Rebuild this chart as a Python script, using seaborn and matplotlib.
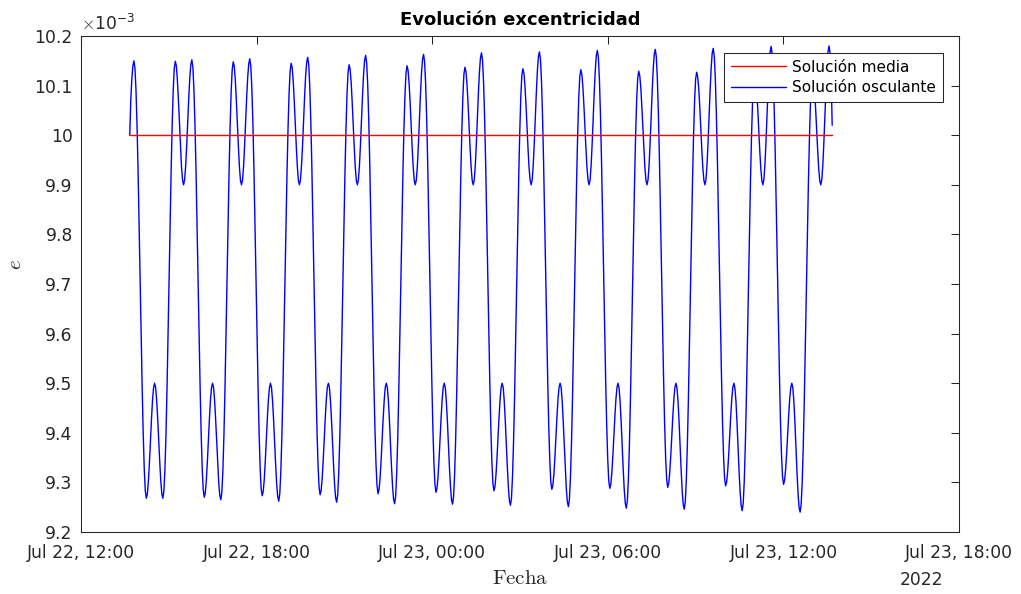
import numpy as np
import pandas as pd
import matplotlib
matplotlib.use("Agg")
import matplotlib.pyplot as plt
import matplotlib.dates as mdates
from matplotlib.ticker import FuncFormatter, FixedLocator
import seaborn as sns

# Propagation window (24 h of samples, equally spaced in time)
t_inicio = "2022-07-22 13:40"
t_fin = "2022-07-23 13:40"

# Mean eccentricity (x 1e-3)
e_media = [10.0, 10.0]

# Osculating eccentricity (x 1e-3); each block of lines is one orbit
e_osculante = [
    10.000, 10.073, 10.114, 10.140, 10.150,
    10.135, 10.091, 10.021, 9.930, 9.823, 9.709, 9.595, 9.489, 9.397, 9.327, 9.283, 9.268,
    9.277, 9.302, 9.340, 9.384, 9.428, 9.466, 9.491, 9.500, 9.491, 9.466, 9.428, 9.384, 9.340, 9.302, 9.277, 9.268,
    9.283, 9.327, 9.397, 9.489, 9.595, 9.709, 9.823, 9.930, 10.021, 10.091, 10.135, 10.149,
    10.140, 10.112, 10.072, 10.025, 9.977, 9.936, 9.910,

    9.900, 9.910, 9.937, 9.978, 10.026, 10.074, 10.115, 10.142, 10.152,
    10.137, 10.093, 10.023, 9.932, 9.825, 9.711, 9.597, 9.491, 9.399, 9.329, 9.285, 9.270,
    9.279, 9.304, 9.341, 9.385, 9.429, 9.466, 9.491, 9.500, 9.491, 9.466, 9.427, 9.383, 9.338, 9.299, 9.274, 9.265,
    9.280, 9.324, 9.394, 9.486, 9.592, 9.706, 9.820, 9.927, 10.018, 10.088, 10.132, 10.148,
    10.139, 10.112, 10.071, 10.024, 9.977, 9.936, 9.909,

    9.900, 9.910, 9.937, 9.979, 10.027, 10.076, 10.117, 10.144, 10.154,
    10.139, 10.095, 10.025, 9.934, 9.827, 9.713, 9.599, 9.493, 9.401, 9.331, 9.287, 9.273,
    9.282, 9.306, 9.343, 9.387, 9.430, 9.467, 9.491, 9.500, 9.491, 9.465, 9.427, 9.381, 9.336, 9.297, 9.271, 9.262,
    9.277, 9.321, 9.391, 9.483, 9.589, 9.703, 9.817, 9.924, 10.015, 10.085, 10.129, 10.145,
    10.136, 10.109, 10.069, 10.023, 9.976, 9.936, 9.909,

    9.900, 9.910, 9.938, 9.979, 10.029, 10.078, 10.120, 10.147, 10.157,
    10.142, 10.098, 10.028, 9.937, 9.830, 9.716, 9.602, 9.496, 9.404, 9.334, 9.290, 9.275,
    9.284, 9.308, 9.345, 9.388, 9.431, 9.467, 9.492, 9.500, 9.491, 9.465, 9.426, 9.380, 9.334, 9.295, 9.269, 9.260,
    9.275, 9.319, 9.389, 9.481, 9.587, 9.701, 9.815, 9.922, 10.013, 10.083, 10.127, 10.142,
    10.133, 10.107, 10.067, 10.021, 9.975, 9.935, 9.909,

    9.900, 9.910, 9.938, 9.981, 10.031, 10.080, 10.123, 10.151, 10.161,
    10.146, 10.102, 10.032, 9.941, 9.834, 9.720, 9.606, 9.500, 9.408, 9.338, 9.294, 9.277,
    9.286, 9.310, 9.346, 9.389, 9.431, 9.467, 9.492, 9.500, 9.491, 9.465, 9.425, 9.379, 9.332, 9.293, 9.266, 9.257,
    9.272, 9.316, 9.386, 9.478, 9.584, 9.698, 9.812, 9.919, 10.010, 10.080, 10.124, 10.140,
    10.131, 10.105, 10.066, 10.020, 9.974, 9.935, 9.909,

    9.900, 9.910, 9.938, 9.981, 10.032, 10.082, 10.125, 10.153, 10.163,
    10.148, 10.104, 10.034, 9.943, 9.836, 9.722, 9.608, 9.502, 9.410, 9.340, 9.296, 9.280,
    9.288, 9.312, 9.348, 9.390, 9.432, 9.468, 9.492, 9.500, 9.491, 9.464, 9.425, 9.378, 9.331, 9.292, 9.265, 9.256,
    9.271, 9.315, 9.385, 9.477, 9.583, 9.697, 9.811, 9.918, 10.009, 10.079, 10.123, 10.137,
    10.128, 10.102, 10.064, 10.019, 9.973, 9.935, 9.909,

    9.900, 9.910, 9.939, 9.982, 10.033, 10.084, 10.127, 10.156, 10.166,
    10.151, 10.107, 10.037, 9.946, 9.839, 9.725, 9.611, 9.505, 9.413, 9.343, 9.299, 9.283,
    9.291, 9.315, 9.350, 9.392, 9.433, 9.468, 9.492, 9.500, 9.491, 9.464, 9.424, 9.377, 9.330, 9.290, 9.263, 9.254,
    9.269, 9.313, 9.383, 9.475, 9.581, 9.695, 9.809, 9.916, 10.007, 10.077, 10.121, 10.134,
    10.125, 10.100, 10.062, 10.017, 9.972, 9.934, 9.909,

    9.900, 9.910, 9.939, 9.983, 10.034, 10.085, 10.129, 10.158, 10.168,
    10.153, 10.109, 10.039, 9.948, 9.841, 9.727, 9.613, 9.507, 9.415, 9.345, 9.301, 9.286,
    9.294, 9.317, 9.352, 9.393, 9.434, 9.469, 9.492, 9.500, 9.491, 9.464, 9.423, 9.376, 9.328, 9.287, 9.261, 9.251,
    9.266, 9.310, 9.380, 9.472, 9.578, 9.692, 9.806, 9.913, 10.004, 10.074, 10.118, 10.132,
    10.123, 10.098, 10.060, 10.016, 9.972, 9.934, 9.909,

    9.900, 9.910, 9.940, 9.984, 10.036, 10.087, 10.131, 10.161, 10.171,
    10.156, 10.112, 10.042, 9.951, 9.844, 9.730, 9.616, 9.510, 9.418, 9.348, 9.304, 9.288,
    9.296, 9.319, 9.354, 9.394, 9.435, 9.469, 9.492, 9.500, 9.490, 9.463, 9.422, 9.374, 9.326, 9.285, 9.258, 9.248,
    9.263, 9.307, 9.377, 9.469, 9.575, 9.689, 9.803, 9.910, 10.001, 10.071, 10.115, 10.129,
    10.120, 10.096, 10.058, 10.015, 9.971, 9.933, 9.909,

    9.900, 9.910, 9.940, 9.984, 10.037, 10.089, 10.133, 10.163, 10.173,
    10.158, 10.114, 10.044, 9.953, 9.846, 9.732, 9.618, 9.512, 9.420, 9.350, 9.306, 9.290,
    9.298, 9.321, 9.355, 9.395, 9.435, 9.469, 9.492, 9.500, 9.490, 9.463, 9.422, 9.373, 9.325, 9.283, 9.256, 9.246,
    9.261, 9.305, 9.375, 9.467, 9.573, 9.687, 9.801, 9.908, 9.999, 10.069, 10.113, 10.127,
    10.118, 10.094, 10.057, 10.014, 9.970, 9.933, 9.909,

    9.900, 9.911, 9.940, 9.985, 10.038, 10.090, 10.135, 10.165, 10.175,
    10.160, 10.116, 10.046, 9.955, 9.848, 9.734, 9.620, 9.514, 9.422, 9.352, 9.308, 9.293,
    9.301, 9.323, 9.357, 9.397, 9.436, 9.470, 9.492, 9.500, 9.490, 9.463, 9.421, 9.372, 9.322, 9.281, 9.253, 9.243,
    9.258, 9.302, 9.372, 9.464, 9.570, 9.684, 9.798, 9.905, 9.996, 10.066, 10.110, 10.124,
    10.116, 10.091, 10.055, 10.012, 9.969, 9.933, 9.909,

    9.900, 9.911, 9.941, 9.986, 10.040, 10.093, 10.138, 10.168, 10.179,
    10.164, 10.120, 10.050, 9.959, 9.852, 9.738, 9.624, 9.518, 9.426, 9.356, 9.312, 9.296,
    9.304, 9.326, 9.359, 9.398, 9.437, 9.470, 9.492, 9.500, 9.490, 9.462, 9.420, 9.370, 9.320, 9.278, 9.250, 9.240,
    9.255, 9.299, 9.369, 9.461, 9.567, 9.681, 9.795, 9.902, 9.993, 10.063, 10.107, 10.122,
    10.114, 10.090, 10.053, 10.011, 9.969, 9.932, 9.908,

    9.900, 9.911, 9.941, 9.987, 10.040, 10.094, 10.139, 10.169, 10.180,
    10.165, 10.121, 10.020,
]

# Axis ticks
x_ticks = pd.date_range("2022-07-22 12:00", "2022-07-23 18:00", freq="6h")
y_ticks = [9.2, 9.3, 9.4, 9.5, 9.6, 9.7, 9.8, 9.9, 10.0, 10.1, 10.2]

escala = 1e-3
df_osc = pd.DataFrame({
    "Fecha": pd.date_range(t_inicio, t_fin, periods=len(e_osculante)),
    "e": np.array(e_osculante) * escala,
})
df_media = pd.DataFrame({
    "Fecha": pd.to_datetime([t_inicio, t_fin]),
    "e": np.array(e_media) * escala,
})

sns.set_theme(style="white")
plt.rcParams["font.family"] = ["DejaVu Sans"]
plt.rcParams["mathtext.fontset"] = "cm"

gris = "#262626"
fig = plt.figure(figsize=(10.21, 5.94), dpi=100)
fig.patch.set_facecolor("white")
ax = fig.add_axes([81 / 1021, 1 - 532 / 594, 878 / 1021, 496 / 594])

sns.lineplot(data=df_media, x="Fecha", y="e", color="#ff0000", lw=1.0,
             label="Solución media", ax=ax, zorder=3, estimator=None)
sns.lineplot(data=df_osc, x="Fecha", y="e", color="#0000ff", lw=1.0,
             label="Solución osculante", ax=ax, zorder=2, estimator=None)

ax.set_xlim(x_ticks[0], x_ticks[-1])
ax.set_ylim(y_ticks[0] * escala, y_ticks[-1] * escala)
ax.xaxis.set_major_locator(FixedLocator(mdates.date2num(x_ticks)))
ax.xaxis.set_major_formatter(mdates.DateFormatter("%b %d, %H:%M"))
ax.yaxis.set_major_locator(FixedLocator([v * escala for v in y_ticks]))
ax.yaxis.set_major_formatter(FuncFormatter(lambda v, _: f"{v / escala:.10g}"))

ax.tick_params(axis="both", direction="in", length=5.8, width=0.75,
               top=True, right=True, labelsize=12.3, colors=gris)
ax.tick_params(axis="x", pad=9)
ax.tick_params(axis="y", pad=6)
for sp in ax.spines.values():
    sp.set_color(gris)
    sp.set_linewidth(0.75)

ax.text(0.0, 1.004, r"$\times\mathdefault{10^{-3}}$", transform=ax.transAxes,
        ha="left", va="bottom", fontsize=12.3, color=gris)
fig.text(921 / 1021, 1 - 580 / 594, "2022", ha="center", va="center",
         fontsize=12.3, color=gris)

ax.set_title("Evolución excentricidad", fontsize=13, fontweight="bold",
             color="black", pad=8)
ax.set_xlabel(r"$\mathrm{Fecha}$", fontsize=15, color=gris, labelpad=4)
ax.set_ylabel(r"$e$", fontsize=15, color=gris)
ax.yaxis.set_label_coords(-0.064, 0.54)

leg = ax.legend(loc="upper right", bbox_to_anchor=(943 / 1021, 1 - 52.7 / 594),
                bbox_transform=fig.transFigure, borderaxespad=0, fancybox=False,
                framealpha=1, edgecolor=gris, fontsize=11, handlelength=3.6,
                handletextpad=0.4, labelspacing=0.35, borderpad=0.45)
leg.get_frame().set_linewidth(0.75)
for txt in leg.get_texts():
    txt.set_color("black")

fig.savefig("out.png", dpi=100, facecolor="white")
